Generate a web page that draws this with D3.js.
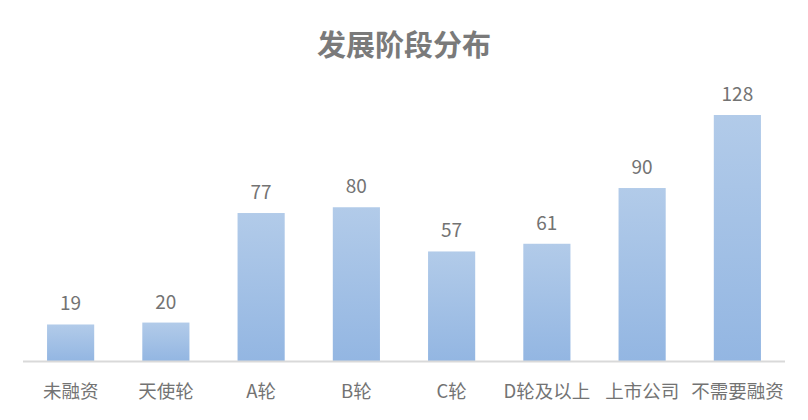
<!DOCTYPE html>
<html><head><meta charset="utf-8">
<script src="https://cdn.jsdelivr.net/npm/d3@7"></script>
<style>body{margin:0;background:#fff;}svg{display:block;font-family:"Microsoft YaHei","Noto Sans CJK SC",sans-serif;}</style>
</head><body>
<svg id="c" width="808" height="420"></svg>
<script>
const categories = ["未融资","天使轮","A轮","B轮","C轮","D轮及以上","上市公司","不需要融资"];
const values = [19,20,77,80,57,61,90,128];
const title = "发展阶段分布";

const svg = d3.select("#c");
const x = d3.scaleBand().domain(categories).range([23,785]).paddingInner(0.505).paddingOuter(0.2525);
const y = d3.scaleLinear().domain([0,128]).range([361,115]);

const defs = svg.append("defs");
const g = defs.append("linearGradient").attr("id","bg").attr("x1",0).attr("y1",0).attr("x2",0).attr("y2",1);
g.append("stop").attr("offset","0%").attr("stop-color","#b2cbe9");
g.append("stop").attr("offset","100%").attr("stop-color","#93b6e2");

svg.append("text").attr("x",404).attr("y",56).attr("text-anchor","middle")
  .attr("font-size",29).attr("font-weight","bold").attr("fill","#7a7a7a").text(title);

svg.selectAll("rect.bar").data(values).join("rect").attr("class","bar")
  .attr("x",(d,i)=>x(categories[i])).attr("width",x.bandwidth())
  .attr("y",d=>y(d)).attr("height",d=>y(0)-y(d)).attr("fill","url(#bg)");

svg.selectAll("text.val").data(values).join("text").attr("class","val")
  .attr("x",(d,i)=>x(categories[i])+x.bandwidth()/2).attr("y",d=>y(d)-14)
  .attr("text-anchor","middle").attr("font-size",19).attr("fill","#737373").text(d=>d);

const ax = svg.append("g").attr("transform","translate(0,361)")
  .call(d3.axisBottom(x).tickSize(0).tickPadding(24));
ax.select(".domain").attr("stroke","#d9d9d9").attr("stroke-width",2).attr("d","M23,0.5H785");
ax.selectAll("text").attr("font-size",18.5).attr("fill","#737373").attr("font-family","'Microsoft YaHei','Noto Sans CJK SC',sans-serif");
</script>
</body></html>
